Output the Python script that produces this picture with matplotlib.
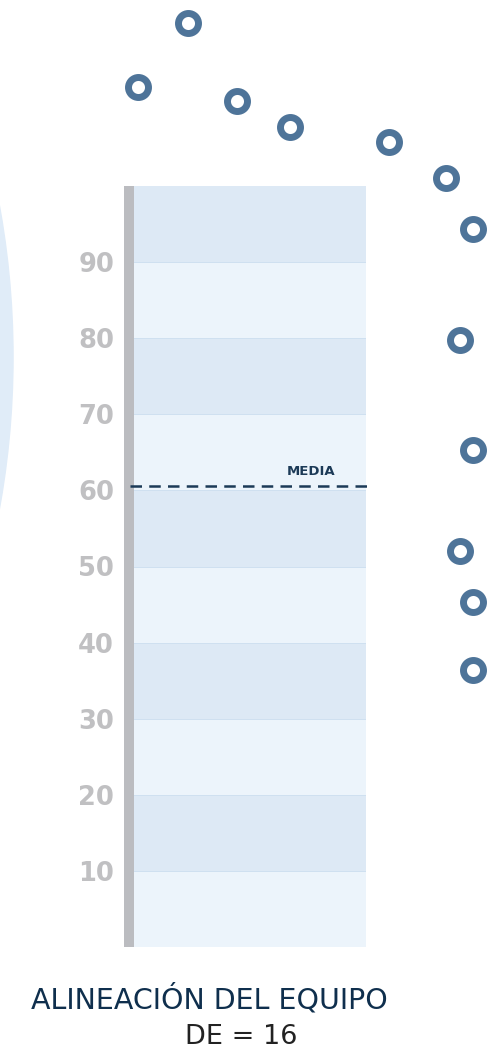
import matplotlib
matplotlib.use("Agg")
import matplotlib.pyplot as plt
from matplotlib.patches import Circle

# escala de alineacion (0-100) con bandas cada 10
bandas = list(range(0, 100, 10))
ticks = [10, 20, 30, 40, 50, 60, 70, 80, 90]
media = 60.6
de = 16

# posiciones de los miembros del equipo (x horizontal, y en la escala)
miembros_x = [7.06, 0.49, 13.6, 20.5, 33.5, 41.0, 44.6, 42.8, 44.6, 42.8, 44.6, 44.6]
miembros_y = [121.4, 113.0, 111.2, 107.7, 105.8, 101.1, 94.3, 79.8, 65.3, 52.1, 45.3, 36.4]

W, H = 487, 1049
fig = plt.figure(figsize=(W / 100, H / 100), dpi=100)
ax = fig.add_axes([134 / W, 102 / H, 232 / W, 761 / H])
ax.set_xlim(0, 30.5)
ax.set_ylim(0, 100)

# arco decorativo a la izquierda
ax.add_patch(Circle((-127.5, 77.5), 111.6, color='#e0ecf8', clip_on=False, zorder=0))

# bandas alternadas
for i, b in enumerate(bandas):
    col = '#ecf4fb' if i % 2 == 0 else '#dde9f5'
    ax.axhspan(b, b + 10, color=col, lw=0, zorder=1)
    if b > 0:
        ax.axhline(b, color='#cfe0f0', lw=0.7, zorder=2)

# barra gris de la escala
ax.bar(-0.655, 100, width=1.31, bottom=0, color='#bbbcc0', clip_on=False, zorder=3)

# linea de la media
ax.plot([-0.53, 31.0], [media, media], color='#1c3a57', lw=1.8,
        dashes=(4.6, 2.9), clip_on=False, zorder=4)
ax.text(23.3, media + 1.45, 'MEDIA', ha='center', va='baseline',
        fontsize=9.5, fontweight='bold', color='#1c3a57', zorder=5)

# miembros del equipo
ax.plot(miembros_x, miembros_y, linestyle='none', marker='o', markersize=14.4,
        markerfacecolor='white', markeredgecolor='#4e7499', markeredgewidth=5.0,
        clip_on=False, zorder=6)

ax.set_yticks(ticks)
ax.set_yticklabels([str(t) for t in ticks], fontsize=18.5, fontweight='bold', color='#c0c0c2')
ax.tick_params(axis='y', length=0, pad=14.4)
ax.set_xticks([])
for s in ax.spines.values():
    s.set_visible(False)

fig.text(209.5 / W, (H - 1008) / H, 'ALINEACIÓN DEL EQUIPO', ha='center', va='baseline',
         fontsize=20.5, color='#0f2f4d')
fig.text(241 / W, (H - 1044) / H, 'DE = %d' % de, ha='center', va='baseline',
         fontsize=19.5, color='#222222')

fig.savefig('out.png', dpi=100, facecolor='white')
